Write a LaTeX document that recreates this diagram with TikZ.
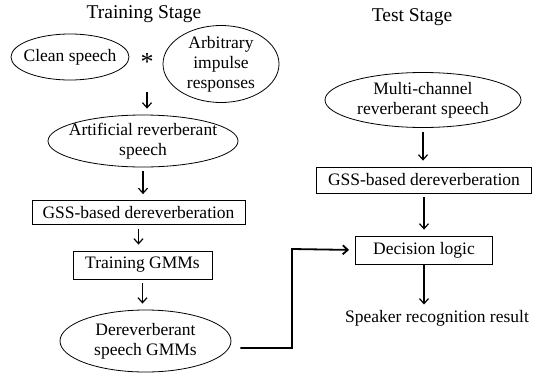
\documentclass[tikz,border=0pt]{standalone}
\usepackage{fontspec}
\setmainfont{Liberation Serif}
\usetikzlibrary{shapes.geometric,arrows.meta,positioning}

\begin{document}
\begin{tikzpicture}[
    x=1pt, y=-1pt,
    every node/.style={font=\fontsize{17.5}{20}\selectfont},
    blob/.style={ellipse, draw, line width=0.8pt, align=center, inner xsep=-20pt, inner ysep=-8pt},
    block/.style={rectangle, draw, line width=0.8pt, inner sep=0pt},
    stage/.style={font=\fontsize{19.5}{22}\selectfont},
    arrow/.style={-{Straight Barb[length=5pt,width=9pt]}, line width=1.2pt, shorten <=4pt, shorten >=6pt},
    link/.style={-{Straight Barb[length=5pt,width=9pt]}, line width=1.8pt}
]
\useasboundingbox (0,0) rectangle (543,378);

% Titles
\node[stage] (ttrain) at (144,14) {Training Stage};
\node[stage] (ttest) at (412,17) {Test Stage};

% Training stage
\node[blob, minimum width=118pt, minimum height=46pt] (clean) at (70,57) {Clean speech};
\node[font=\fontsize{26}{26}\selectfont] (star) at (147,62) {*};
\node[blob, minimum width=116pt, minimum height=77pt] (rir) at (221,64) {Arbitrary\\impulse\\responses};
\node[blob, minimum width=190pt, minimum height=52pt] (artif) at (143,141) {Artificial reverberant\\speech};
\node[block, minimum width=213pt, minimum height=24pt] (gssa) at (138.5,212.5) {GSS-based dereverberation};
\node[block, minimum width=139pt, minimum height=28pt] (train) at (142.5,265) {Training GMMs};
\node[blob, minimum width=171pt, minimum height=62pt] (derev) at (145.5,341) {Dereverberant\\speech GMMs};

% Test stage
\node[blob, minimum width=196pt, minimum height=55pt] (multi) at (423,100) {Multi-channel\\reverberant speech};
\node[block, minimum width=215pt, minimum height=26pt] (gssb) at (424,180) {GSS-based dereverberation};
\node[block, minimum width=137pt, minimum height=28pt] (decide) at (424,250) {Decision logic};
\node (result) at (437,318) {Speaker recognition result};
\coordinate (bend) at (292,249);

% Arrows
\draw[arrow, shorten <=18pt] (star) -- (star |- artif.north);
\draw[arrow] (artif.south) -- (artif.south |- gssa.north);
\draw[arrow] (gssa.south) -- (gssa.south |- train.north);
\draw[arrow] (train.south) -- (train.south |- derev.north);
\draw[arrow] (multi.south) -- (multi.south |- gssb.north);
\draw[arrow] (gssb.south) -- (gssb.south |- decide.north);
\draw[arrow, shorten <=0pt, shorten >=2pt] (decide.south) -- (decide.south |- result.north);
\draw[link, shorten <=9pt, shorten >=6pt] ([yshift=-7pt]derev.east) -| (bend) -- (decide.west);

\end{tikzpicture}
\end{document}
